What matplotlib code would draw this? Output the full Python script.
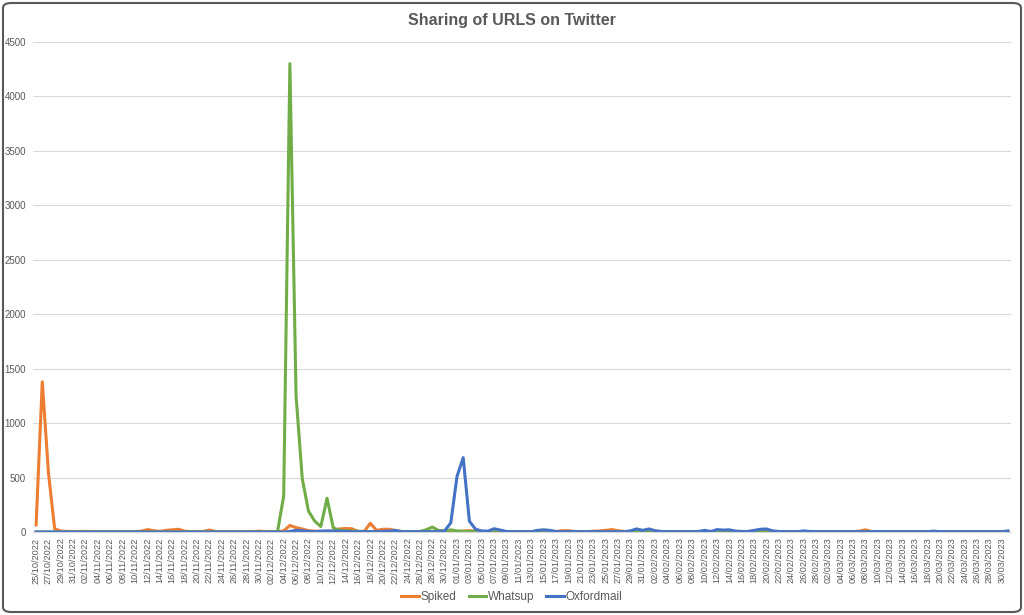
import matplotlib
matplotlib.use("Agg")
import matplotlib.pyplot as plt
from matplotlib.patches import FancyBboxPatch
import pandas as pd

dates = pd.date_range("2022-10-25", "2023-03-31", freq="D")
date_labels = [d.strftime("%d/%m/%Y") for d in dates]

spiked = [65, 1380, 540, 30, 8, 5, 3, 5, 5, 3,
          2, 2, 2, 2, 2, 2, 2, 8, 22, 12,
          5, 15, 20, 25, 8, 3, 3, 5, 18, 5,
          3, 3, 3, 3, 3, 3, 8, 3, 2, 2,
          10, 60, 40, 28, 12, 8, 5, 5, 10, 28,
          32, 30, 5, 5, 80, 15, 25, 25, 15, 5,
          3, 2, 2, 5, 5, 10, 10, 5, 5, 8,
          12, 8, 5, 3, 3, 3, 3, 3, 3, 3,
          3, 3, 3, 3, 5, 12, 12, 5, 3, 3,
          8, 10, 15, 22, 12, 5, 3, 3, 3, 3,
          3, 3, 3, 3, 3, 3, 3, 3, 3, 3,
          3, 3, 3, 3, 3, 3, 3, 3, 3, 3,
          3, 3, 3, 3, 3, 3, 3, 3, 3, 3,
          3, 3, 3, 8, 20, 5, 3, 3, 3, 3,
          3, 3, 3, 3, 3, 3, 3, 3, 3, 3,
          3, 3, 3, 3, 3, 3, 3, 3]

whatsup = [0, 0, 0, 0, 0, 0, 0, 0, 0, 0,
           0, 0, 0, 0, 0, 0, 0, 0, 0, 0,
           0, 0, 0, 0, 0, 0, 0, 0, 0, 0,
           0, 0, 0, 0, 0, 0, 0, 0, 0, 2,
           330, 4300, 1250, 490, 193, 101, 50, 310, 40, 15,
           10, 8, 5, 5, 3, 5, 5, 3, 3, 3,
           3, 3, 5, 20, 45, 15, 5, 20, 10, 5,
           5, 5, 3, 2, 2, 2, 2, 2, 2, 2,
           2, 2, 2, 2, 2, 2, 2, 2, 2, 2,
           2, 2, 2, 2, 2, 2, 2, 5, 5, 5,
           2, 2, 2, 2, 2, 2, 2, 2, 2, 2,
           2, 2, 2, 2, 2, 2, 2, 2, 2, 2,
           2, 2, 2, 2, 2, 2, 2, 2, 2, 2,
           2, 2, 2, 2, 2, 2, 2, 2, 2, 2,
           2, 2, 2, 2, 2, 2, 2, 2, 2, 2,
           2, 2, 2, 2, 2, 2, 2, 2]

oxfordmail = [0, 0, 0, 0, 0, 0, 0, 0, 0, 0,
              0, 0, 0, 0, 0, 0, 0, 0, 0, 0,
              0, 0, 0, 0, 0, 0, 0, 0, 0, 0,
              0, 0, 0, 0, 0, 0, 0, 0, 0, 0,
              0, 5, 15, 12, 5, 3, 8, 10, 8, 8,
              5, 3, 3, 3, 3, 3, 5, 8, 15, 3,
              3, 3, 3, 3, 3, 5, 10, 85, 510, 683,
              100, 25, 10, 8, 30, 18, 5, 3, 3, 3,
              3, 15, 20, 15, 5, 3, 3, 3, 3, 3,
              3, 3, 3, 3, 3, 3, 10, 28, 15, 28,
              12, 5, 3, 3, 3, 3, 3, 5, 15, 5,
              22, 18, 20, 8, 5, 5, 15, 25, 28, 10,
              5, 3, 3, 3, 10, 5, 3, 3, 3, 3,
              3, 3, 3, 3, 3, 3, 5, 3, 3, 3,
              3, 3, 3, 3, 3, 8, 3, 3, 3, 3,
              3, 3, 3, 3, 3, 3, 3, 10]

series_names = ["Spiked", "Whatsup", "Oxfordmail"]
colors = ["#ED7D31", "#70AD47", "#4472C4"]

plt.rcParams["font.family"] = ["Liberation Sans", "DejaVu Sans"]

fig = plt.figure(figsize=(10.24, 6.15), dpi=100)
ax = fig.add_axes([33 / 1024, 1 - 532 / 615, 978 / 1024, 490 / 615])

x = list(range(len(date_labels)))
for vals, name, c in zip([spiked, whatsup, oxfordmail], series_names, colors):
    ax.plot(x, vals, color=c, lw=2.2, label=name, solid_joinstyle="round")

ax.set_xlim(-0.5, len(date_labels) - 0.5)
ax.set_ylim(0, 4500)
ax.set_yticks(range(0, 4501, 500))
ax.yaxis.grid(True, color="#D9D9D9", lw=0.8)
ax.set_axisbelow(True)
ax.set_xticks(x[::2])
ax.set_xticklabels(date_labels[::2], rotation=90, fontsize=6.6, color="#595959")
ax.tick_params(axis="x", length=0, pad=4)
ax.tick_params(axis="y", length=0, labelsize=7, labelcolor="#595959", pad=5)
for s in ["top", "right", "left"]:
    ax.spines[s].set_visible(False)
ax.spines["bottom"].set_color("#D9D9D9")
ax.spines["bottom"].set_linewidth(0.8)

fig.text(0.5, 1 - 20 / 615, "Sharing of URLS on Twitter", ha="center", va="center",
         fontsize=11.5, fontweight="bold", color="#595959")

leg = fig.legend(loc="center", bbox_to_anchor=(0.5, 1 - 597 / 615), ncol=3,
                 frameon=False, fontsize=8.5, handlelength=1.5, columnspacing=1.0,
                 handletextpad=0.15)
for t in leg.get_texts():
    t.set_color("#595959")

border = FancyBboxPatch((3 / 1024, 3 / 615), 1018 / 1024, 609 / 615,
                        boxstyle="round,pad=0,rounding_size=0.008",
                        transform=fig.transFigure, fill=False,
                        edgecolor="#595959", lw=1.5)
fig.patches.append(border)

fig.savefig("out.png", dpi=100)
